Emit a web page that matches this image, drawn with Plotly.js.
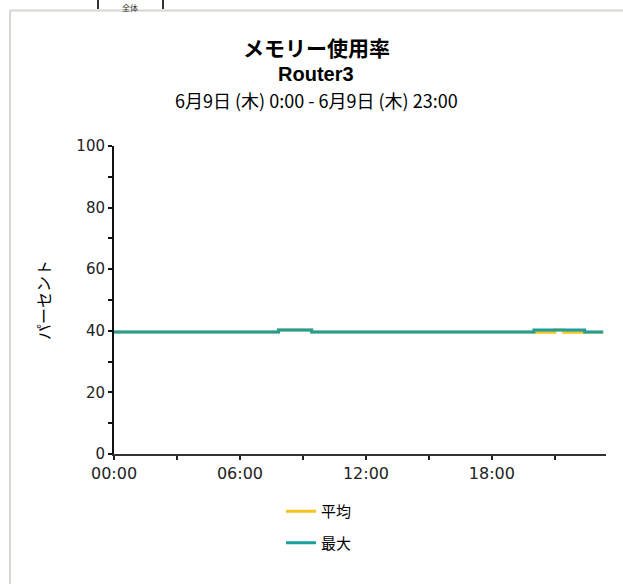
<!DOCTYPE html>
<html>
<head>
<meta charset="utf-8">
<script src="https://cdn.plot.ly/plotly-3.0.1.min.js"></script>
<style>html,body{margin:0;padding:0;background:#fff;}#chart{width:623px;height:584px;}</style>
</head>
<body>
<div id="chart"></div>
<script>
// ---- data ----
var chartTitle = "メモリー使用率";
var deviceName = "Router3";
var periodText = "6月9日 (木) 0:00 - 6月9日 (木) 23:00";
var yTitle = "パーセント";
var tabLabel = "全体";

var avgTimes = ["2011-06-09 00:00", "2011-06-09 07:50", "2011-06-09 09:25", "2011-06-09 20:00", "2011-06-09 21:00", "2011-06-09 21:25", "2011-06-09 23:18"];
var avgValues = [39.6, 40.3, 39.6, 39.5, 40.3, 39.5, 39.5];
var avgName = "平均";

var maxTimes = ["2011-06-09 00:00", "2011-06-09 07:50", "2011-06-09 09:25", "2011-06-09 20:00", "2011-06-09 22:25", "2011-06-09 23:18"];
var maxValues = [39.6, 40.3, 39.6, 40.3, 39.6, 39.6];
var maxName = "最大";

var xRange = ["2011-06-09 00:00", "2011-06-09 23:26"];
var yRange = [0, 100];

// ---- layout helpers (pixel -> paper) ----
var L = 114, R = 606, T = 146, B = 454;
function px(x){ return (x - L) / (R - L); }
function py(y){ return (B - y) / (B - T); }

var jp = '"Noto Sans CJK JP", "DejaVu Sans", sans-serif';
var num = '"DejaVu Sans", "Noto Sans CJK JP", sans-serif';

var traces = [
  {x: avgTimes, y: avgValues, name: avgName, type: 'scatter', mode: 'lines',
   line: {color: '#F7C31C', width: 3, shape: 'hv'}, legendgroup: 'a'},
  {x: maxTimes, y: maxValues, name: maxName, type: 'scatter', mode: 'lines',
   line: {color: '#1E9E9E', width: 3, shape: 'hv'}, legendgroup: 'b'}
];

var layout = {
  width: 623, height: 584,
  margin: {l: L, r: 623 - R, t: T, b: 584 - B, pad: 0},
  paper_bgcolor: '#ffffff', plot_bgcolor: '#ffffff',
  showlegend: true,
  legend: {x: px(281), xanchor: 'left', y: py(495), yanchor: 'top',
           font: {family: jp, size: 15, color: '#000'}, tracegroupgap: 9,
           bgcolor: 'rgba(0,0,0,0)', itemwidth: 30},
  xaxis: {type: 'date', range: xRange, tickformat: '%H:%M', dtick: 6*3600*1000,
          tick0: '2011-06-09 00:00', showgrid: false, zeroline: false,
          showline: true, linecolor: '#333', linewidth: 2,
          ticks: 'outside', ticklen: 4, tickwidth: 2, tickcolor: '#222',
          minor: {dtick: 3*3600*1000, ticks: 'outside', ticklen: 4, tickwidth: 2, tickcolor: '#222'},
          tickfont: {family: num, size: 16, color: '#222'}},
  yaxis: {range: yRange, dtick: 20, showgrid: false, zeroline: false,
          showline: true, linecolor: '#111', linewidth: 2,
          ticks: 'outside', ticklen: 4, tickwidth: 2, tickcolor: '#111',
          minor: {dtick: 10, ticks: 'outside', ticklen: 4, tickwidth: 2, tickcolor: '#111'},
          tickfont: {family: num, size: 15, color: '#222'},
          title: {text: yTitle, font: {family: jp, size: 16, color: '#000'}, standoff: 22}},
  annotations: [
    {text: '<b>' + chartTitle + '</b>', xref: 'paper', yref: 'paper', x: px(316), y: py(47),
     xanchor: 'center', yanchor: 'middle', showarrow: false, font: {family: jp, size: 21, color: '#000'}},
    {text: '<b>' + deviceName + '</b>', xref: 'paper', yref: 'paper', x: px(316), y: py(74),
     xanchor: 'center', yanchor: 'middle', showarrow: false, font: {family: '"Liberation Sans", sans-serif', size: 20, color: '#000'}},
    {text: periodText, xref: 'paper', yref: 'paper', x: px(316), y: py(100),
     xanchor: 'center', yanchor: 'middle', showarrow: false, font: {family: jp, size: 18, color: '#000'}},
    {text: tabLabel, xref: 'paper', yref: 'paper', x: px(130), y: py(0.5),
     xanchor: 'center', yanchor: 'top', showarrow: false, borderpad: 0, font: {family: jp, size: 8, color: '#333'}}
  ],
  shapes: [
    {type: 'line', xref: 'paper', yref: 'paper', x0: px(10), x1: px(623), y0: py(10.5), y1: py(10.5), line: {color: '#d8d6d0', width: 2}},
    {type: 'line', xref: 'paper', yref: 'paper', x0: px(10), x1: px(10), y0: py(10), y1: py(584), line: {color: '#d8d6d0', width: 2}},
    {type: 'line', xref: 'paper', yref: 'paper', x0: px(98), x1: px(98), y0: py(0), y1: py(9), line: {color: '#333', width: 2}},
    {type: 'line', xref: 'paper', yref: 'paper', x0: px(163), x1: px(163), y0: py(0), y1: py(9), line: {color: '#333', width: 2}}
  ]
};

Plotly.newPlot('chart', traces, layout, {displayModeBar: false, staticPlot: true});
</script>
</body>
</html>
